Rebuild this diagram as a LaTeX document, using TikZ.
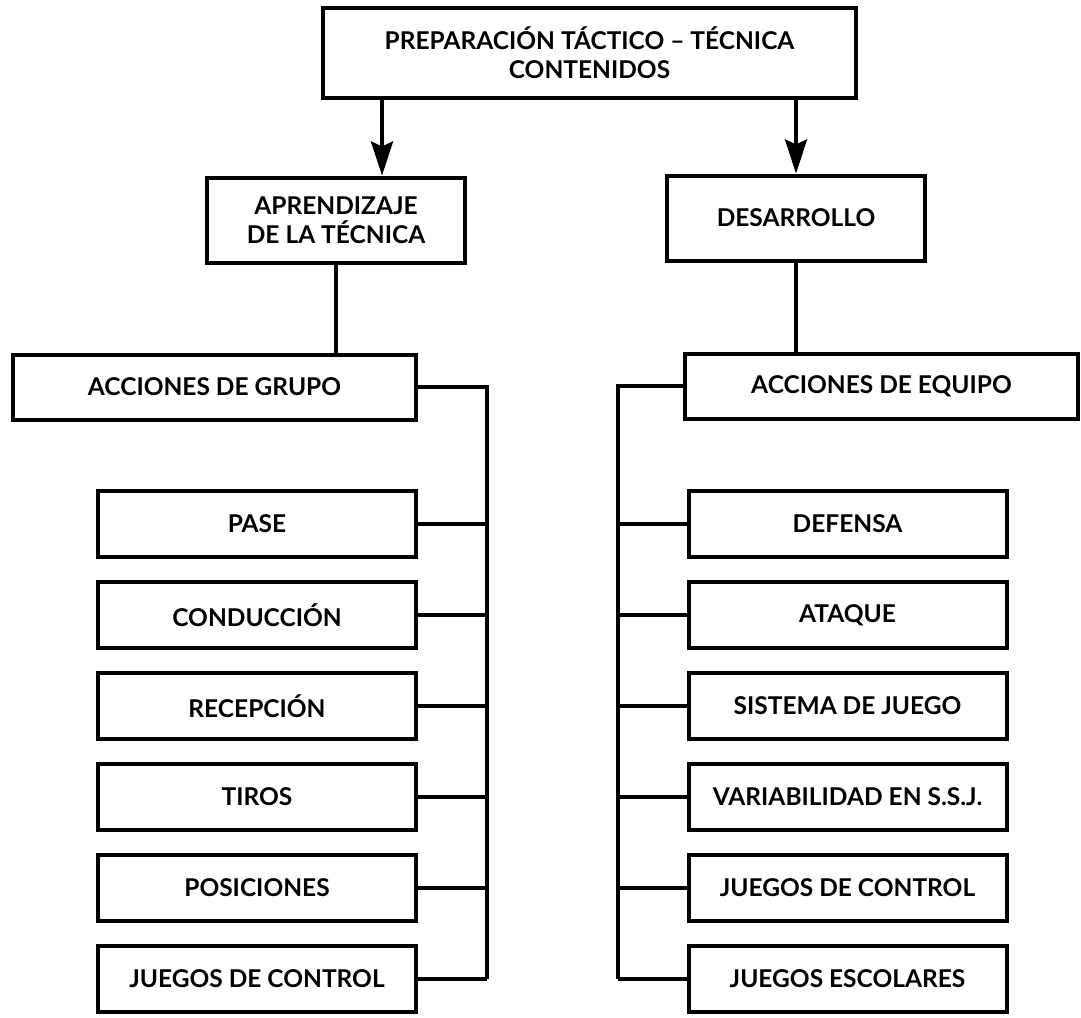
\documentclass[tikz,border=0pt]{standalone}
\usepackage{fontspec}
\setmainfont{Lato}
\usetikzlibrary{arrows.meta}

\begin{document}
\begin{tikzpicture}[x=1pt,y=-1pt]
	\tikzstyle{every node}=[font=\fontsize{24.5}{29}\selectfont\bfseries]
	\tikzstyle{kasten}=[draw, line width=4pt, inner sep=0pt, align=center]
	\tikzstyle{linie}=[line width=4pt]
	\tikzstyle{pfeil}=[line width=4pt, -{Stealth[length=34pt,width=22pt,inset=5pt]}]
	\useasboundingbox (0,0) rectangle (1081,1017);

	%Kopf und zweite Ebene
	\node[kasten, minimum width=533pt, minimum height=90pt] (kopf) at (589.5,53) {PREPARACIÓN TÁCTICO – TÉCNICA\\CONTENIDOS};
	\node[kasten, minimum width=258pt, minimum height=85pt] (aprend) at (336,220) {APRENDIZAJE\\DE LA TÉCNICA};
	\node[kasten, minimum width=258pt, minimum height=85pt] (desarr) at (796,218) {DESARROLLO};
	\coordinate (lpfeil) at (382,0);

	\draw[pfeil] (kopf.south -| lpfeil) -- (aprend.north -| lpfeil);
	\draw[pfeil] (kopf.south -| desarr) -- (desarr.north);

	%Gruppe / Mannschaft
	\node[kasten, minimum width=403pt, minimum height=65pt] (grupo) at (214.5,387) {ACCIONES DE GRUPO};
	\node[kasten, minimum width=393pt, minimum height=65pt] (equipo) at (881.5,386) {ACCIONES DE EQUIPO};
	\draw[linie] (aprend.south) -- (aprend.south |- grupo.north);
	\draw[linie] (desarr.south) -- (desarr.south |- equipo.north);

	\coordinate (lbus) at (487,0);
	\coordinate (rbus) at (618,0);

	%Inhalte links
	\foreach \t [count=\i] in {PASE, CONDUCCIÓN, RECEPCIÓN, TIROS, POSICIONES, JUEGOS DE CONTROL}{
		\node[kasten, minimum width=318pt, minimum height=66pt] (l\i) at (257,433+91*\i) {\t};
		\draw[linie] (l\i.east) -- (l\i.east -| lbus);
	}
	\draw[linie] (grupo.east) -| (lbus |- l6.east);

	%Inhalte rechts
	\foreach \t [count=\i] in {DEFENSA, ATAQUE, SISTEMA DE JUEGO, VARIABILIDAD EN S.S.J., JUEGOS DE CONTROL, JUEGOS ESCOLARES}{
		\node[kasten, minimum width=318pt, minimum height=66pt] (r\i) at (847.5,433+91*\i) {\t};
		\draw[linie] (r\i.west) -- (r\i.west -| rbus);
	}
	\draw[linie] (equipo.west) -| (rbus |- r6.west);
\end{tikzpicture}
\end{document}
